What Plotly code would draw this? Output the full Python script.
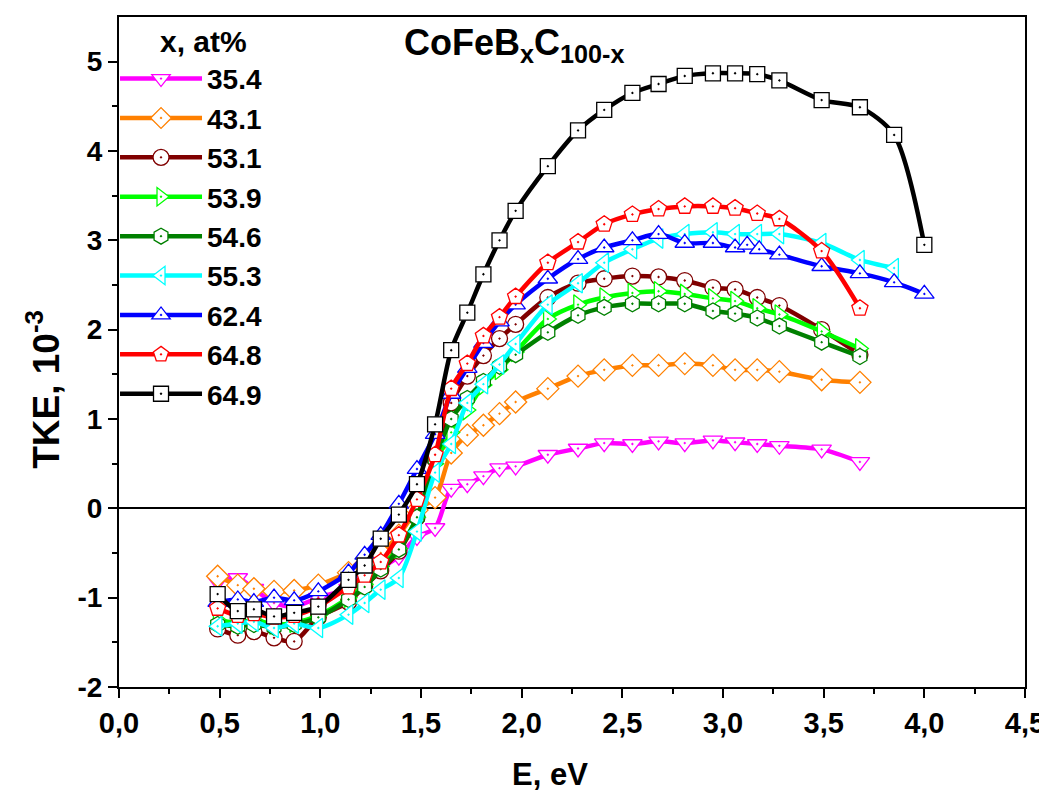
import plotly.graph_objects as go

# ---- data ----
E_base = [0.49, 0.59, 0.67, 0.77, 0.87, 0.99, 1.14, 1.22, 1.30, 1.39, 1.48, 1.57, 1.65, 1.73,
          1.81, 1.89, 1.97, 2.13, 2.28, 2.41, 2.55, 2.68, 2.81, 2.95, 3.06, 3.17, 3.28, 3.49, 3.68]
E_cyan = E_base + [3.85]
E_black = E_base + [3.85, 4.00]
E_blue = [0.49, 0.59, 0.67, 0.77, 0.87, 0.99, 1.14, 1.22, 1.30, 1.39, 1.48, 1.57, 1.65, 1.73,
          1.81, 1.89, 1.97, 2.13, 2.28, 2.41, 2.55, 2.68, 2.81, 2.95, 3.06, 3.12, 3.18, 3.28,
          3.49, 3.68, 3.85, 4.00]

tke_354 = [-0.82, -0.78, -0.90, -1.06, -1.10, -1.00, -0.90, -0.80, -0.67, -0.54, -0.32, -0.22, 0.22,
           0.27, 0.36, 0.45, 0.47, 0.60, 0.67, 0.73, 0.72, 0.75, 0.73, 0.76, 0.74, 0.72, 0.70, 0.66, 0.52]
tke_431 = [-0.76, -0.86, -0.90, -0.93, -0.92, -0.86, -0.72, -0.63, -0.50, -0.30, -0.02, 0.12, 0.62,
           0.82, 0.93, 1.06, 1.19, 1.34, 1.48, 1.55, 1.60, 1.60, 1.62, 1.60, 1.55, 1.55, 1.53, 1.44, 1.41]
tke_531 = [-1.35, -1.42, -1.38, -1.45, -1.49, -1.22, -1.05, -0.87, -0.70, -0.48, -0.10, 0.55, 1.18,
           1.48, 1.71, 1.90, 2.06, 2.36, 2.52, 2.57, 2.60, 2.59, 2.55, 2.47, 2.45, 2.36, 2.27, 2.00, 1.72]
tke_539 = [-1.25, -1.28, -1.25, -1.30, -1.28, -1.20, -1.00, -0.85, -0.65, -0.45, -0.10, 0.50, 0.85,
           1.10, 1.38, 1.55, 1.75, 2.12, 2.28, 2.36, 2.41, 2.43, 2.40, 2.35, 2.32, 2.24, 2.17, 1.98, 1.79]
tke_546 = [-1.30, -1.32, -1.30, -1.33, -1.30, -1.22, -1.02, -0.88, -0.68, -0.46, -0.10, 0.55, 1.00,
           1.23, 1.42, 1.59, 1.72, 1.97, 2.16, 2.25, 2.29, 2.29, 2.29, 2.21, 2.18, 2.13, 2.04, 1.86, 1.70]
tke_553 = [-1.32, -1.29, -1.27, -1.34, -1.29, -1.34, -1.19, -1.06, -0.91, -0.78, -0.26, 0.40, 0.72,
           1.18, 1.39, 1.61, 1.84, 2.28, 2.52, 2.75, 2.90, 3.02, 3.07, 3.09, 3.07, 3.07, 3.07, 2.97,
           2.78, 2.69]
tke_624 = [-1.05, -1.02, -1.05, -1.00, -1.03, -0.93, -0.72, -0.52, -0.30, 0.05, 0.44, 0.83, 1.28,
           1.57, 1.85, 2.09, 2.28, 2.57, 2.79, 2.92, 3.00, 3.07, 2.97, 2.97, 2.92, 2.95, 2.90, 2.84,
           2.71, 2.63, 2.53, 2.40]
tke_648 = [-1.12, -1.20, -1.18, -1.22, -1.20, -1.10, -0.88, -0.75, -0.60, -0.30, 0.10, 0.60, 1.34,
           1.62, 1.93, 2.14, 2.37, 2.75, 2.98, 3.18, 3.29, 3.35, 3.38, 3.38, 3.36, 3.30, 3.24, 2.88, 2.24]
tke_649 = [-0.96, -1.15, -1.13, -1.21, -1.17, -1.10, -0.80, -0.64, -0.34, -0.07, 0.27, 0.94, 1.77,
           2.19, 2.62, 3.00, 3.33, 3.83, 4.23, 4.46, 4.65, 4.75, 4.84, 4.87, 4.87, 4.86, 4.79, 4.57,
           4.49, 4.18, 2.95]

names = ["35.4", "43.1", "53.1", "53.9", "54.6", "55.3", "62.4", "64.8", "64.9"]
y_tick_vals = [-2, -1, 0, 1, 2, 3, 4, 5]
y_tick_text = ["-2", "-1", "0", "1", "2", "3", "4", "5"]

xs = [E_base, E_base, E_base, E_base, E_base, E_cyan, E_blue, E_base, E_black]
ys = [tke_354, tke_431, tke_531, tke_539, tke_546, tke_553, tke_624, tke_648, tke_649]
colors = ["#FF00FF", "#FF8000", "#800000", "#00FF00", "#008000", "#00FFFF", "#0000FF",
          "#FF0000", "#000000"]
symbols = ["triangle-down-dot", "diamond-dot", "circle-dot", "triangle-right-dot", "hexagon-dot",
           "triangle-left-dot", "triangle-up-dot", "pentagon-dot", "square-dot"]
sizes = [17, 17, 16, 17, 16, 17, 17, 17, 15]

FONT = "Liberation Sans, Arial, sans-serif"

fig = go.Figure()
for i in range(len(names)):
    fig.add_trace(go.Scatter(
        x=xs[i], y=ys[i], name="<b>%s</b>" % names[i], mode="lines+markers",
        legendgroup="g%d" % i,
        line=dict(color=colors[i], width=4.5, shape="spline", smoothing=0.8),
        marker=dict(symbol=symbols[i], size=sizes[i], color="white",
                    line=dict(color=colors[i], width=1.3)),
    ))

fig.update_layout(
    width=1047, height=790,
    paper_bgcolor="white", plot_bgcolor="white",
    margin=dict(l=111, r=30, t=9, b=111),
    separators=",.",
    showlegend=True,
    legend=dict(
        x=-0.0044, y=0.945, xanchor="left", yanchor="top",
        bgcolor="rgba(0,0,0,0)", borderwidth=0,
        font=dict(family=FONT, size=28, color="black"),
        itemwidth=82, tracegroupgap=0, traceorder="grouped",
    ),
    annotations=[
        dict(x=0.0938, y=0.964, xref="paper", yref="paper", xanchor="center", yanchor="middle",
             text="<b>x, at%</b>", showarrow=False,
             font=dict(family=FONT, size=30, color="black")),
        dict(x=0.312, y=0.995, xref="paper", yref="paper", xanchor="left", yanchor="top",
             text="<b>CoFeB<sub>x</sub>C<sub>100-x</sub></b>", showarrow=False,
             font=dict(family=FONT, size=36, color="black")),
        dict(x=0.476, y=-0.13, xref="paper", yref="paper", xanchor="center", yanchor="middle",
             text="<b>E, eV</b>", showarrow=False,
             font=dict(family=FONT, size=31, color="black")),
        dict(x=-0.0828, y=0.445, xref="paper", yref="paper", xanchor="center", yanchor="middle",
             text="<b>TKE, 10<sup>-3</sup></b>", showarrow=False, textangle=-90,
             font=dict(family=FONT, size=37, color="black")),
    ],
)

fig.update_xaxes(
    range=[0, 4.5], dtick=0.5, tick0=0, tickformat=".1f", automargin=False,
    showgrid=False, zeroline=False,
    showline=True, linecolor="black", linewidth=2, mirror=True,
    ticks="outside", ticklen=9, tickwidth=2, tickcolor="black",
    minor=dict(dtick=0.25, ticks="outside", ticklen=5, tickwidth=2, tickcolor="black"),
    tickfont=dict(family=FONT, size=29, color="black", weight="bold"),
)
fig.update_yaxes(
    range=[-2, 5.5], tickvals=y_tick_vals, ticktext=y_tick_text, automargin=False,
    showgrid=False, zeroline=True, zerolinecolor="black", zerolinewidth=2,
    showline=True, linecolor="black", linewidth=2, mirror=True,
    ticks="outside", ticklen=9, tickwidth=2, tickcolor="black",
    minor=dict(tickvals=[-1.5, -0.5, 0.5, 1.5, 2.5, 3.5, 4.5], ticks="outside", ticklen=5,
               tickwidth=2, tickcolor="black"),
    tickfont=dict(family=FONT, size=28, color="black", weight="bold"),
)

fig.write_html("out.html")
